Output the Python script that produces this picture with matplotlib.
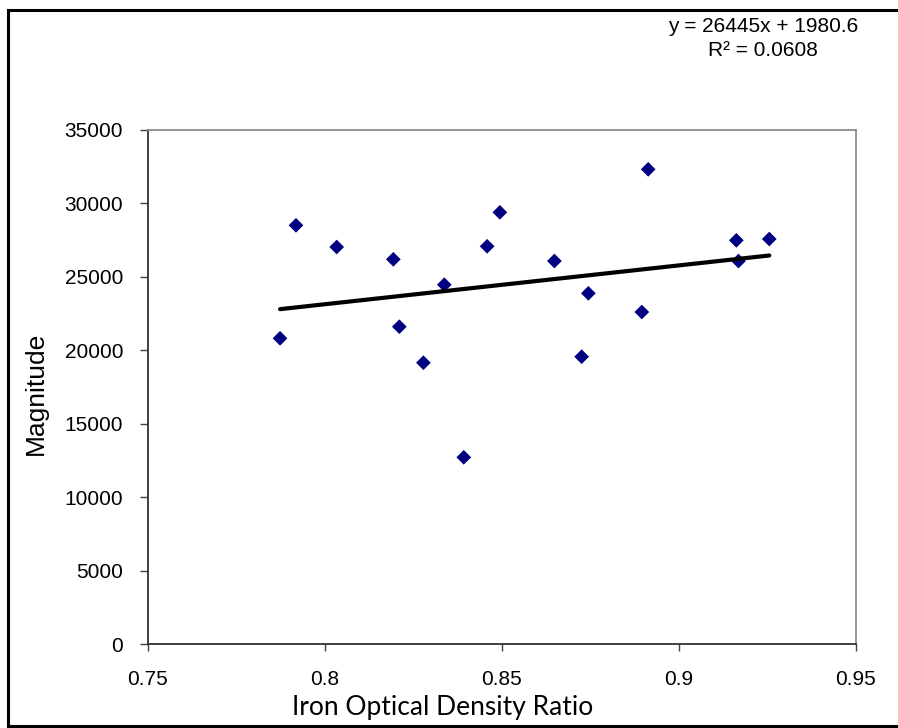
import matplotlib
matplotlib.use("Agg")
import matplotlib.pyplot as plt
from matplotlib.lines import Line2D
import numpy as np

# Iron optical density ratio vs. magnitude
ratio = [0.7873, 0.7918, 0.8033, 0.8193, 0.8210, 0.8278, 0.8337, 0.8392, 0.8458,
         0.8494, 0.8648, 0.8725, 0.8744, 0.8895, 0.8913, 0.9162, 0.9168, 0.9255]
magnitude = [20815, 28510, 27032, 26194, 21605, 19154, 24466, 12712, 27080,
             29394, 26078, 19563, 23879, 22606, 32322, 27488, 26078, 27576]

# Linear trendline coefficients
slope = 26445
intercept = 1980.6
r_squared = 0.0608

x_ticks = [0.75, 0.8, 0.85, 0.9, 0.95]
x_tick_labels = ["0.75", "0.8", "0.85", "0.9", "0.95"]
y_ticks = [0, 5000, 10000, 15000, 20000, 25000, 30000, 35000]

W, H = 898, 728
fig = plt.figure(figsize=(W / 100, H / 100), dpi=100)
fig.patch.set_facecolor("white")

ax = fig.add_axes([148 / W, (H - 644) / H, 708 / W, 514 / H])
ax.set_xlim(0.75, 0.95)
ax.set_ylim(0, 35000)

ax.scatter(ratio, magnitude, marker="D", s=7.5 ** 2, color="#000080",
           edgecolors="none", zorder=3)

xs = np.array([min(ratio), max(ratio)])
ax.plot(xs, slope * xs + intercept, color="black", lw=3.0,
        solid_capstyle="round", zorder=4)

ax.set_xticks(x_ticks)
ax.set_xticklabels(x_tick_labels)
ax.set_yticks(y_ticks)
ax.set_yticklabels([str(v) for v in y_ticks])

for lab in ax.get_xticklabels() + ax.get_yticklabels():
    lab.set_fontfamily("Liberation Sans")
    lab.set_fontsize(15)
ax.tick_params(axis="x", direction="out", length=5, width=1, color="#404040",
               pad=14)
ax.tick_params(axis="y", direction="out", length=6, width=1, color="#404040",
               pad=12)

for side in ("left", "bottom"):
    ax.spines[side].set_color("#303030")
    ax.spines[side].set_linewidth(1.3)
for side in ("top", "right"):
    ax.spines[side].set_color("#8c8c8c")
    ax.spines[side].set_linewidth(1.3)

ax.set_xlabel("Iron Optical Density Ratio", family="Lato", fontsize=19)
ax.xaxis.set_label_coords((443 - 148) / 708, -(708 - 644) / 514)
ax.xaxis.label.set_va("center")
ax.set_ylabel("Magnitude", family="Liberation Sans", fontsize=19)
ax.yaxis.set_label_coords(-(148 - 36) / 708, (644 - 393) / 514)
ax.yaxis.label.set_va("center")

# Trendline equation
fig.text(763 / W, 1 - 27 / H, f"y = {slope}x + {intercept}", ha="center",
         va="center", family="Liberation Sans", fontsize=15)
fig.text(763 / W, 1 - 51 / H, f"R² = {r_squared}", ha="center", va="center",
         family="Liberation Sans", fontsize=15)

# Outer chart border
border_kw = dict(color="black", lw=2.2, transform=fig.transFigure)
fig.add_artist(Line2D([8 / W, 1.01], [1 - 9.5 / H, 1 - 9.5 / H], **border_kw))
fig.add_artist(Line2D([8 / W, 8 / W], [1 - 9.5 / H, 1 - 726 / H], **border_kw))
fig.add_artist(Line2D([8 / W, 1.01], [1 - 726 / H, 1 - 726 / H], **border_kw))

fig.savefig("out.png", dpi=100, facecolor="white")
